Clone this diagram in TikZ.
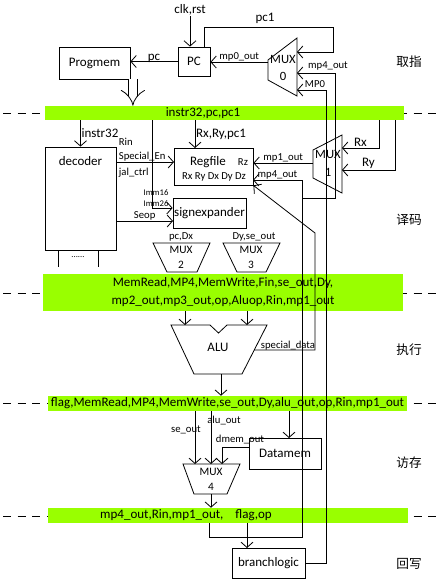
\documentclass[tikz,border=0pt]{standalone}
\usepackage{fontspec}
\setmainfont{Carlito}
\newfontfamily\cjk{Noto Sans CJK SC}
\usetikzlibrary{positioning,arrows.meta,calc}
\definecolor{bandgreen}{RGB}{153,255,0}
\tikzset{
  box/.style      = {rectangle, draw, line width=0.6pt, inner sep=0pt,
                     font=\fontsize{9.75}{11}\selectfont},
  band/.style     = {rectangle, fill=bandgreen, inner sep=0pt, align=center,
                     font=\fontsize{9.75}{13.5}\selectfont},
  bandtext/.style = {inner sep=0pt, font=\fontsize{9.75}{11}\selectfont},
  wire/.style     = {line width=0.6pt},
  arr/.style      = {line width=0.6pt,
                     -{Straight Barb[length=4pt,width=9pt,line width=0.6pt]}},
  biglab/.style   = {inner sep=0.5pt, font=\fontsize{9.75}{11}\selectfont},
  lab/.style      = {inner sep=0.5pt, font=\fontsize{8}{9}\selectfont},
  tinylab/.style  = {inner sep=0pt, font=\fontsize{6.5}{7}\selectfont},
  muxtext/.style  = {align=center, inner sep=0pt, font=\fontsize{9.5}{13}\selectfont},
  muxsmall/.style = {align=center, inner sep=0pt, font=\fontsize{8.5}{11.25}\selectfont},
  stage/.style    = {font=\cjk\fontsize{9.5}{11}\selectfont},
  stageline/.style= {line width=0.6pt, dash pattern=on 6pt off 5pt}
}

\begin{document}
\begin{tikzpicture}[x=0.75pt,y=-0.75pt]
        \useasboundingbox (0,0) rectangle (443,579);
        \foreach \y in {113,293,403,516}
          \draw[stageline] (3,\y) -- (443,\y);

        \node[band, minimum width=269.25pt, minimum height=10.5pt,
              label={[bandtext, xshift=-16.1pt]center:{instr32,pc,pc1}}] (ifid) at (224.5,113) {};
        \node[band, minimum width=270pt, minimum height=27.75pt] (idex) at (223,292.5)
              {MemRead,MP4,MemWrite,Fin,se\_out,Dy,\\mp2\_out,mp3\_out,op,Aluop,Rin,mp1\_out};
        \node[band, minimum width=269.25pt, minimum height=11.25pt] (exmem) at (227.5,403.5)
              {flag,MemRead,MP4,MemWrite,se\_out,Dy,alu\_out,op,Rin,mp1\_out};
        \node[band, minimum width=270pt, minimum height=11.25pt,
              label={[bandtext, xshift=-31.5pt]center:{mp4\_out,Rin,mp1\_out,\hspace{9pt}flag,op}}] (memwb) at (228,515.5) {};

        \node[box, minimum width=53.25pt, minimum height=24pt] (progmem) at (94.5,63) {Progmem};
        \node[box, minimum width=24pt, minimum height=21.75pt] (pc) at (194,61.5) {PC};
        \node[biglab] (clkrst) at (190,10) {clk,rst};
        \node[biglab] (pconelab) at (265,18) {pc1};
        \node[box, minimum width=53.25pt, minimum height=77.25pt,
              label={[biglab, anchor=north, yshift=-6.75pt]north:decoder}] (decoder) at (80.5,198.5) {};
        \node[box, minimum width=59.25pt, minimum height=27.75pt] (regfile) at (213.5,166.5) {};
        \node[biglab] (rftitle) at (208,162) {Regfile};
        \node[lab] (rfrz) at (243,162) {Rz};
        \node[lab] (rfports) at (214,177) {Rx Ry Dx Dy Dz};
        \node[box, minimum width=54.75pt, minimum height=22.5pt] (signexp) at (209.5,213) {signexpander};
        \node[box, minimum width=54pt, minimum height=23.25pt] (datamem) at (285,453.5) {Datamem};
        \node[box, minimum width=54.75pt, minimum height=22.5pt] (branch) at (268.5,563) {branchlogic};

        \draw[wire] (268,60) -- (297,38) -- (297,96) -- (268,80) -- cycle;
        \node[muxtext] (mux0) at (283,68) {MUX\\0};
        \draw[wire] (313,150) -- (342,135) -- (342,193) -- (313,178) -- cycle;
        \node[muxtext] (mux1) at (328,163.5) {MUX\\1};
        \draw[wire] (153,243) -- (210,243) -- (197,272) -- (167,272) -- cycle;
        \node[muxsmall] (mux2) at (181,257.5) {MUX\\2};
        \node[lab] (mux2in) at (181,237) {pc,Dx};
        \draw[wire] (223,243) -- (280,243) -- (266,272) -- (237,272) -- cycle;
        \node[muxsmall] (mux3) at (251,257.5) {MUX\\3};
        \node[lab] (mux3in) at (254,237) {Dy,se\_out};
        \draw[wire] (171,325) -- (210,325) -- (218.5,333) -- (227,325) -- (267,325)
                    -- (242,374) -- (194,374) -- cycle;
        \node[biglab] (alu) at (218,347) {ALU};
        \draw[wire] (183,464) -- (240,464) -- (227,494) -- (194,494) -- cycle;
        \node[muxsmall] (mux4) at (211,479.5) {MUX\\4};

        \coordinate (m0in1) at (297,52);
        \coordinate (m0in2) at (297,73);
        \coordinate (m0in3) at (297,90);
        \coordinate (m0out) at (268,62);
        \coordinate (m1in1) at (342,148);
        \coordinate (m1in2) at (342,170);
        \coordinate (m1out) at (313,163);
        \coordinate (pc1turn) at (333,27);
        \coordinate (mp0turn) at (326,90);
        \coordinate (fbturn1) at (302,537);
        \coordinate (fbturn2) at (335,198);
        \coordinate (rfmp4) at (253,180);
        \coordinate (rxtap) at (379,148);
        \coordinate (rytap) at (395,170);
        \coordinate (rfin) at (195,148);
        \coordinate (immtap) at (152,208);
        \coordinate (rfctl) at (174,162);
        \coordinate (seop) at (173,221);
        \coordinate (alutop1) at (185,325);
        \coordinate (alutop2) at (247,325);
        \coordinate (aluside) at (254.2,350);
        \coordinate (sdturn) at (315,233);
        \coordinate (alubot) at (221,374);
        \coordinate (m4in1) at (195,464);
        \coordinate (m4in2) at (211,464);
        \coordinate (m4in3) at (222,464);
        \coordinate (m4out) at (211,494);
        \coordinate (dmemin) at (289,438);
        \coordinate (dmemout) at (249,447);
        \coordinate (wbmp4) at (209,523);
        \coordinate (wbflag) at (247,548);
        \coordinate (pmout) at ($(progmem.south east)+(2.5,0)$);

        \draw[arr] (clkrst.south) -- (clkrst.south |- pc.north);
        \draw[arr] ($(pc.north east)+(-6,0)$) |- (pc1turn) |- (m0in1);
        \draw[arr] (pc.west) -- (progmem.east |- pc.west) node[biglab, midway, above=-1.5pt] {pc};
        \draw[arr] (m0out) -- (pc.east |- m0out) node[lab, midway, above] {mp0\_out};
        \draw[arr] (branch.east) -| (mp0turn) -- (m0in3);
        \node[lab] (mp0lab) at (315,84) {MP0};
        \draw[arr] (wbmp4) |- (fbturn1) |- (fbturn2) |- (m0in2);
        \node[lab] (mp4lab) at (328,66) {mp4\_out};
        \draw[arr] (fbturn1 |- fbturn2) |- (rfmp4) node[lab, pos=0.75, above] {mp4\_out};
        \draw[arr] (m1out) -- (regfile.east |- m1out) node[lab, midway, above] {mp1\_out};
        \draw[arr] (rxtap |- ifid.south) |- (m1in1) node[biglab, pos=0.75, above] {Rx};
        \draw[arr] (rytap |- ifid.south) |- (m1in2) node[biglab, pos=0.75, above] {Ry};

        \draw[double, double distance=6pt, line width=0.6pt, -Implies] (pmout) -- (pmout |- ifid.north);
        \draw[arr] (ifid.south -| decoder.north) -- (decoder.north) node[biglab, midway, right] {instr32};
        \draw[arr] (ifid.south -| rfin) -- (rfin) node[biglab, midway, right] {Rx,Ry,pc1};
        \draw[arr] (immtap |- ifid.south) -- (immtap) -- (immtap -| signexp.west);
        \node[tinylab] (imm16) at (156,193) {Imm16};
        \node[tinylab] (imm26) at (156,204) {Imm26};
        \draw[arr] (decoder.east |- rfctl) -- (rfctl);
        \node[lab, anchor=west] (rinlab) at (118,142) {Rin};
        \node[lab, anchor=west] (splab) at (118,157) {Special\_En};
        \node[lab, anchor=west] (jallab) at (118,173) {jal\_ctrl};
        \draw[arr] (decoder.east |- seop) -- (seop) node[lab, midway, above] {Seop};
        \draw[wire] ($(decoder.south)+(-22.5,0)$) -- ++(0,17);
        \draw[wire] ($(decoder.south)+(17.5,0)$) -- ++(0,17);
        \node[tinylab] (dots) at (78,257) {......};

        \draw[arr] (alutop1 |- idex.south) -- (alutop1);
        \draw[arr] (alutop2 |- idex.south) -- (alutop2);
        \draw[arr] (aluside) -| (sdturn) -- (regfile.south east);
        \node[lab] (sdlab) at (288,346) {special\_data};
        \draw[arr] (alubot) -- (alubot |- exmem.north);

        \draw[arr] (m4in1 |- exmem.south) -- (m4in1);
        \node[lab] (selab) at (186,430) {se\_out};
        \draw[arr] (m4in2 |- exmem.south) -- (m4in2);
        \node[lab] (alulab) at (224,421) {alu\_out};
        \draw[arr] (dmemin |- exmem.south) -- (dmemin);
        \draw[arr] (dmemout) -| (m4in3);
        \node[lab] (dmemlab) at (240,440) {dmem\_out};
        \draw[arr] (m4out) -- (m4out |- memwb.north);
        \draw[arr] (wbflag |- memwb.south) -- (wbflag);

        \node[stage] (sif) at (409,62) {取指};
        \node[stage] (sid) at (409,220) {译码};
        \node[stage] (sex) at (409,350) {执行};
        \node[stage] (smem) at (409,463) {访存};
        \node[stage] (swb) at (409,564) {回写};
      \end{tikzpicture}
\end{document}
